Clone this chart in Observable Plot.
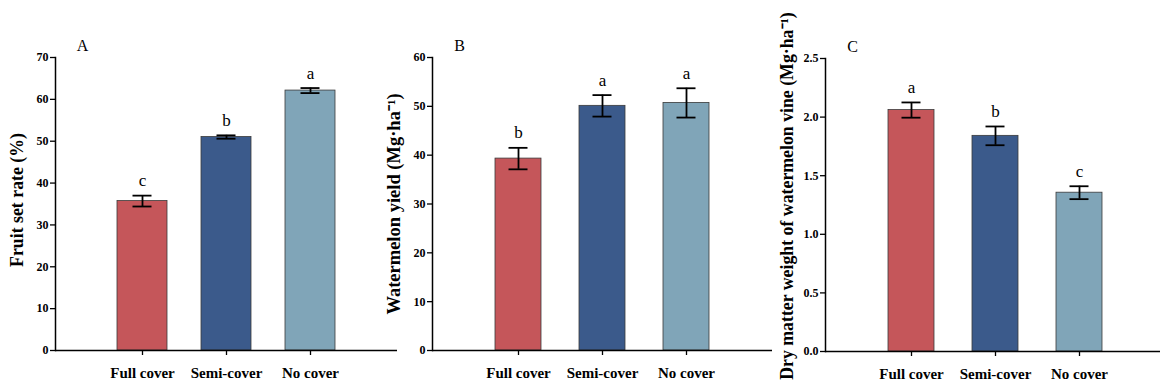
<!DOCTYPE html>
<html>
<head>
<meta charset="utf-8">
<script src="https://cdn.jsdelivr.net/npm/d3@7"></script>
<script src="https://cdn.jsdelivr.net/npm/@observablehq/plot@0.6"></script>
<style>
  html, body { margin: 0; padding: 0; background: #fff; }
  #wrap { position: relative; width: 1160px; height: 388px; overflow: hidden; background: #fff; }
  #wrap svg { position: absolute; left: 0; top: 0; }
</style>
</head>
<body>
<div id="wrap"></div>
<script>
// ---- data ----
const categories = ["Full cover", "Semi-cover", "No cover"];
const barColors = ["#C5565A", "#3B5A8B", "#80A5B8"];

const fruitSetRate = [35.7, 51.0, 62.1];
const fruitSetErr = [1.3, 0.4, 0.6];
const fruitSetSig = ["c", "b", "a"];
const fruitSetTicks = [0, 10, 20, 30, 40, 50, 60, 70];

const yieldValues = [39.3, 50.1, 50.7];
const yieldErr = [2.2, 2.2, 3.0];
const yieldSig = ["b", "a", "a"];
const yieldTicks = [0, 10, 20, 30, 40, 50, 60];

const vineDryMatter = [2.06, 1.84, 1.355];
const vineErr = [0.065, 0.08, 0.055];
const vineSig = ["a", "b", "c"];
const vineTicks = [0, 0.5, 1.0, 1.5, 2.0, 2.5];

const panelLetters = ["A", "B", "C"];
const yLabels = [
  "Fruit set rate (%)",
  "Watermelon yield (Mg·ha⁻¹)",
  "Dry matter weight of watermelon vine (Mg·ha⁻¹)"
];

const serif = "'Liberation Serif', 'Times New Roman', serif";

function panel({values, errs, sigs, ticks, tickFormat, letter, ylabel, labelSize, labelDy, width, marginLeft, marginRight, marginTop, marginBottom, paddingInner, paddingOuter, capInset}) {
  const rows = categories.map((c, i) => ({cat: c, v: values[i], e: errs[i], sig: sigs[i], color: barColors[i]}));
  return Plot.plot({
    width, height: 388,
    marginLeft, marginRight, marginTop, marginBottom,
    style: {background: "transparent", fontFamily: serif, overflow: "visible", maxWidth: "none", color: "black"},
    x: {domain: categories, paddingInner, paddingOuter},
    y: {domain: [0, ticks[ticks.length - 1]]},
    marks: [
      Plot.barY(rows, {x: "cat", y: "v", fill: "color", stroke: "#3a3a3a", strokeWidth: 0.8}),
      Plot.ruleX(rows, {x: "cat", y1: d => d.v - d.e, y2: d => d.v + d.e, stroke: "black", strokeWidth: 1.8}),
      Plot.tickY(rows, {x: "cat", y: d => d.v + d.e, stroke: "black", strokeWidth: 1.8, insetLeft: capInset, insetRight: capInset}),
      Plot.tickY(rows, {x: "cat", y: d => d.v - d.e, stroke: "black", strokeWidth: 1.8, insetLeft: capInset, insetRight: capInset}),
      Plot.text(rows, {x: "cat", y: d => d.v + d.e, text: "sig", dy: -15, lineAnchor: "middle", fontSize: 17, fontFamily: serif, fill: "black"}),
      Plot.ruleY([0], {stroke: "black", strokeWidth: 1.5}),
      Plot.frame({anchor: "left", stroke: "black", strokeWidth: 1.5}),
      Plot.axisY({ticks, tickFormat, tickSize: 5, tickPadding: 2, strokeWidth: 1.3, fontSize: 12, fontWeight: "bold", fontFamily: serif, fill: "black", label: null}),
      Plot.axisX({tickSize: 5, tickPadding: 12, strokeWidth: 1.3, fontSize: 15, fontWeight: "bold", fontFamily: serif, fill: "black", label: null}),
      Plot.text([ylabel], {frameAnchor: "left", rotate: -90, dx: -38, dy: labelDy, lineAnchor: "middle", textAnchor: "middle", fontSize: labelSize, fontWeight: "bold", fontFamily: serif, fill: "black"}),
      Plot.text([letter], {frameAnchor: "top-left", dx: 27, dy: -12, lineAnchor: "middle", textAnchor: "middle", fontSize: 16, fontFamily: serif, fill: "black"})
    ]
  });
}

const wrap = document.getElementById("wrap");
wrap.appendChild(panel({values: fruitSetRate, errs: fruitSetErr, sigs: fruitSetSig, ticks: fruitSetTicks, tickFormat: d3.format("d"),
  letter: panelLetters[0], ylabel: yLabels[0], labelSize: 17.8, labelDy: -4, width: 1160, marginLeft: 55, marginRight: 763, marginTop: 57, marginBottom: 38,
  paddingInner: 0.4, paddingOuter: 0.714, capInset: 15.5}));
wrap.appendChild(panel({values: yieldValues, errs: yieldErr, sigs: yieldSig, ticks: yieldTicks, tickFormat: d3.format("d"),
  letter: panelLetters[1], ylabel: yLabels[1], labelSize: 18.5, labelDy: 0, width: 1160, marginLeft: 432, marginRight: 388, marginTop: 57, marginBottom: 38,
  paddingInner: 0.447, paddingOuter: 0.725, capInset: 13.5}));
wrap.appendChild(panel({values: vineDryMatter, errs: vineErr, sigs: vineSig, ticks: vineTicks, tickFormat: d3.format(".1f"),
  letter: panelLetters[2], ylabel: yLabels[2], labelSize: 17.8, labelDy: -9, width: 1165, marginLeft: 825, marginRight: 0, marginTop: 58, marginBottom: 37,
  paddingInner: 0.447, paddingOuter: 0.725, capInset: 13.5}));
</script>
</body>
</html>
